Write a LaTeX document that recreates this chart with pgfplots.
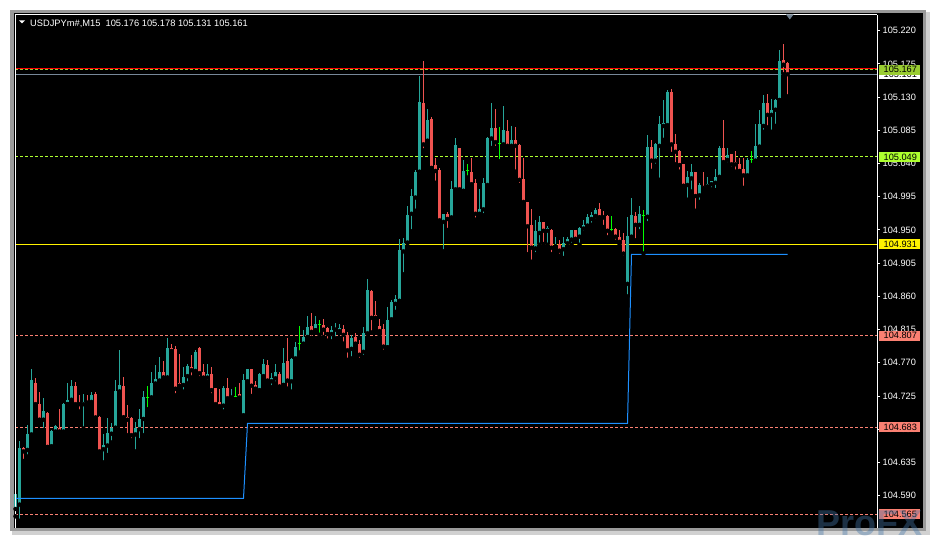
\documentclass[border=0pt]{standalone}
\usepackage{pgfplots}
\pgfplotsset{compat=1.18}
\usepackage{pgfplotstable}
\usepackage{fontspec}
\setmainfont{Liberation Sans}
\definecolor{bull}{HTML}{26A69A}
\definecolor{bear}{HTML}{EF5350}
\definecolor{dojic}{HTML}{00FF00}
\definecolor{blueline}{HTML}{1E90FF}
\definecolor{bidline}{HTML}{778899}
\definecolor{ygreen}{HTML}{9ACD32}
\definecolor{gyellow}{HTML}{ADFF2F}
\definecolor{salmonc}{HTML}{FA8072}
\definecolor{shiftc}{HTML}{708090}

\pgfplotstableread{
i o h l c
0 104.572 104.594 104.562 104.592
1 104.578 104.664 104.556 104.655
3 104.652 104.686 104.643 104.673
4 104.673 104.762 104.670 104.747
7 104.693 104.722 104.679 104.705
9 104.657 104.679 104.655 104.677
10 104.677 104.686 104.674 104.684
12 104.677 104.716 104.675 104.714
13 104.714 104.743 104.714 104.720
14 104.720 104.747 104.715 104.739
17 104.714 104.728 104.681 104.717
19 104.717 104.731 104.716 104.726
22 104.653 104.674 104.635 104.659
23 104.658 104.695 104.645 104.675
24 104.674 104.688 104.662 104.682
25 104.682 104.747 104.682 104.732
26 104.731 104.787 104.731 104.740
30 104.673 104.690 104.650 104.682
31 104.680 104.708 104.665 104.694
32 104.694 104.732 104.672 104.724
34 104.723 104.758 104.723 104.743
35 104.742 104.767 104.740 104.748
36 104.746 104.778 104.744 104.757
38 104.750 104.803 104.750 104.790
42 104.740 104.765 104.731 104.751
43 104.752 104.769 104.742 104.766
45 104.759 104.787 104.758 104.784
48 104.750 104.768 104.744 104.755
52 104.712 104.739 104.704 104.736
54 104.723 104.735 104.719 104.725
57 104.699 104.755 104.694 104.747
58 104.745 104.762 104.744 104.762
61 104.733 104.756 104.732 104.755
62 104.752 104.775 104.750 104.768
64 104.745 104.756 104.737 104.749
65 104.749 104.768 104.742 104.757
67 104.740 104.790 104.740 104.770
69 104.745 104.777 104.731 104.775
70 104.776 104.798 104.772 104.791
72 104.796 104.815 104.791 104.805
73 104.805 104.833 104.805 104.819
75 104.814 104.833 104.814 104.823
79 104.809 104.820 104.799 104.815
80 104.815 104.824 104.803 104.817
81 104.813 104.822 104.810 104.817
84 104.789 104.808 104.776 104.804
87 104.785 104.819 104.778 104.810
88 104.810 104.884 104.809 104.869
93 104.791 104.846 104.791 104.828
94 104.829 104.855 104.826 104.852
95 104.850 104.862 104.839 104.856
96 104.854 104.938 104.853 104.923
97 104.921 104.939 104.890 104.933
98 104.933 104.982 104.932 104.970
99 104.972 105.006 104.948 104.996
100 104.994 105.031 104.976 105.029
101 105.029 105.158 105.023 105.124
103 105.071 105.114 105.069 105.099
107 104.961 104.972 104.921 104.972
109 104.967 105.016 104.964 105.005
110 105.005 105.075 105.002 105.065
112 105.003 105.045 105.003 105.030
116 104.972 105.006 104.971 104.978
117 104.978 105.021 104.970 105.013
118 105.011 105.076 105.006 105.074
119 105.074 105.122 105.061 105.088
122 105.066 105.118 105.063 105.085
124 105.064 105.091 105.062 105.072
130 104.925 104.964 104.917 104.949
131 104.946 104.969 104.930 104.961
133 104.949 104.955 104.930 104.953
135 104.928 104.941 104.925 104.931
137 104.924 104.940 104.912 104.933
138 104.932 104.941 104.927 104.938
139 104.937 104.950 104.930 104.950
141 104.941 104.954 104.930 104.953
142 104.952 104.963 104.946 104.957
143 104.956 104.972 104.954 104.968
144 104.965 104.975 104.957 104.970
145 104.969 104.980 104.963 104.977
153 104.877 104.968 104.860 104.942
154 104.941 104.993 104.940 104.970
156 104.957 104.982 104.948 104.972
158 104.968 105.079 104.959 105.062
160 105.044 105.068 105.037 105.066
161 105.064 105.104 105.018 105.094
162 105.091 105.126 105.072 105.095
163 105.092 105.140 105.091 105.137
168 105.011 105.030 104.991 105.022
169 105.020 105.039 105.002 105.029
171 104.997 105.013 104.988 105.011
173 105.009 105.022 105.006 105.012
174 105.012 105.017 105.005 105.017
175 105.014 105.032 105.004 105.022
176 105.022 105.064 105.018 105.061
178 105.045 105.061 105.039 105.051
183 105.024 105.048 105.020 105.045
185 105.044 105.094 105.042 105.064
186 105.063 105.112 105.062 105.094
187 105.091 105.133 105.083 105.122
189 105.106 105.127 105.083 105.113
190 105.113 105.127 105.091 105.126
191 105.126 105.194 105.126 105.179
}\bullT

\pgfplotstableread{
i o h l c
2 104.654 104.656 104.637 104.650
5 104.743 104.749 104.713 104.714
6 104.714 104.730 104.689 104.693
8 104.702 104.703 104.656 104.656
11 104.682 104.707 104.675 104.677
15 104.739 104.744 104.711 104.714
16 104.716 104.726 104.704 104.714
18 104.718 104.726 104.711 104.716
20 104.728 104.730 104.695 104.696
21 104.697 104.698 104.647 104.650
27 104.739 104.751 104.696 104.696
28 104.696 104.713 104.672 104.693
29 104.695 104.696 104.665 104.672
37 104.757 104.772 104.750 104.750
39 104.790 104.795 104.783 104.786
40 104.789 104.793 104.726 104.735
41 104.743 104.782 104.738 104.739
44 104.765 104.781 104.750 104.760
46 104.790 104.791 104.749 104.756
47 104.758 104.769 104.747 104.750
49 104.755 104.764 104.726 104.733
50 104.736 104.736 104.712 104.714
51 104.717 104.734 104.711 104.711
53 104.736 104.749 104.720 104.722
56 104.728 104.742 104.722 104.723
59 104.762 104.762 104.725 104.739
60 104.740 104.745 104.731 104.735
63 104.767 104.774 104.742 104.746
66 104.755 104.758 104.735 104.738
68 104.773 104.803 104.735 104.746
74 104.820 104.838 104.810 104.812
77 104.821 104.829 104.805 104.815
78 104.817 104.818 104.800 104.809
82 104.816 104.821 104.796 104.808
83 104.808 104.812 104.774 104.787
85 104.805 104.810 104.794 104.796
86 104.796 104.801 104.774 104.781
89 104.867 104.869 104.811 104.831
90 104.835 104.854 104.826 104.831
91 104.820 104.830 104.808 104.813
92 104.816 104.823 104.785 104.792
102 105.122 105.179 105.058 105.066
104 105.100 105.103 105.034 105.034
105 105.038 105.048 105.014 105.030
106 105.031 105.034 104.958 104.963
108 104.971 104.974 104.950 104.965
111 105.061 105.061 105.002 105.005
114 105.028 105.048 105.010 105.012
115 105.013 105.019 104.964 104.972
120 105.088 105.114 105.061 105.069
123 105.084 105.099 105.060 105.064
125 105.072 105.090 105.029 105.064
126 105.065 105.067 105.011 105.018
127 105.019 105.048 104.984 104.988
128 104.988 104.988 104.917 104.955
129 104.957 104.979 104.907 104.926
132 104.961 104.961 104.931 104.949
134 104.950 104.952 104.917 104.926
136 104.931 104.936 104.915 104.922
140 104.950 104.950 104.934 104.938
146 104.978 104.986 104.967 104.967
147 104.969 104.976 104.954 104.967
148 104.969 104.970 104.940 104.949
150 104.951 104.953 104.934 104.941
151 104.941 104.950 104.931 104.934
152 104.936 104.946 104.912 104.918
155 104.969 104.974 104.936 104.957
159 105.063 105.072 105.030 105.044
164 105.137 105.141 105.053 105.066
165 105.066 105.080 105.039 105.056
166 105.057 105.058 105.029 105.038
167 105.039 105.040 105.005 105.010
170 105.029 105.029 104.976 104.996
172 105.010 105.029 105.003 105.007
177 105.061 105.099 105.039 105.042
179 105.053 105.053 105.033 105.039
180 105.042 105.057 105.029 105.039
181 105.039 105.048 105.029 105.030
182 105.033 105.048 105.007 105.024
188 105.122 105.134 105.089 105.106
192 105.180 105.202 105.161 105.174
193 105.176 105.178 105.131 105.161
}\bearT

\pgfplotstableread{
i o h l c
33 104.723 104.738 104.707 104.723
55 104.724 104.737 104.722 104.724
71 104.796 104.820 104.784 104.796
76 104.822 104.828 104.808 104.822
113 105.030 105.040 105.021 105.030
121 105.067 105.090 105.043 105.067
149 104.950 104.969 104.946 104.950
157 104.969 104.977 104.918 104.969
184 105.045 105.057 105.038 105.045
}\dojiT

\begin{document}
\begin{tikzpicture}
\path[use as bounding box] (0,0) rectangle (936bp,540bp);
\fill[white] (0,0) rectangle (936bp,540bp);
% window chrome
\fill[black!18] (12bp,5bp) rectangle (930bp,528bp);
\fill[black!40] (10bp,8.5bp) rectangle (926bp,530bp);
\fill[black] (13.5bp,11.5bp) rectangle (923bp,526.5bp);

\begin{axis}[
  at={(15bp,12bp)}, anchor=south west,
  scale only axis, width=862bp, height=513bp,
  xmin=-0.125, xmax=215.375, ymin=104.5462, ymax=105.2413,
  axis x line=none, axis y line*=right,
  axis line style={white, line width=1bp},
  ytick={104.590,104.635,104.680,104.725,104.770,104.815,104.860,104.905,104.950,104.995,105.040,105.085,105.130,105.175,105.220},
  tick align=outside, major tick length=3bp,
  tick style={white, line width=1bp},
  scaled y ticks=false,
  yticklabel style={text=white, font=\fontsize{9.2bp}{10bp}\selectfont, anchor=west, inner sep=0pt, xshift=2.5bp,
    /pgf/number format/.cd, fixed, fixed zerofill, precision=3, 1000 sep={}, assume math mode=true},
  clip=false,
]
% horizontal lines
\addplot[red, line width=1bp] coordinates {(-0.125,105.169) (215.375,105.169)};
\addplot[ygreen, line width=1bp, dash pattern=on 3bp off 2bp] coordinates {(-0.125,105.167) (215.375,105.167)};
\addplot[bidline, line width=1bp] coordinates {(-0.125,105.161) (215.375,105.161)};
\addplot[gyellow, line width=1bp, dash pattern=on 3bp off 2bp] coordinates {(-0.125,105.049) (215.375,105.049)};
\addplot[yellow, line width=1bp] coordinates {(-0.125,104.931) (215.375,104.931)};
\addplot[salmonc, line width=1bp, dash pattern=on 3bp off 2bp] coordinates {(-0.125,104.807) (215.375,104.807)};
\addplot[salmonc, line width=1bp, dash pattern=on 3bp off 2bp] coordinates {(-0.125,104.683) (215.375,104.683)};
\addplot[salmonc, line width=1bp, dash pattern=on 3bp off 2bp] coordinates {(-0.125,104.565) (215.375,104.565)};

% wicks
\addplot[only marks, mark=none, error bars/.cd, y dir=plus, y explicit, error mark=none,
  error bar style={draw=bull, line width=1bp}]
  table[x=i, y=l, y error expr=\thisrow{h}-\thisrow{l}] {\bullT};
\addplot[only marks, mark=none, error bars/.cd, y dir=plus, y explicit, error mark=none,
  error bar style={draw=bear, line width=1bp}]
  table[x=i, y=l, y error expr=\thisrow{h}-\thisrow{l}] {\bearT};
\addplot[only marks, mark=none, error bars/.cd, y dir=plus, y explicit, error mark=none,
  error bar style={draw=dojic, line width=1bp}]
  table[x=i, y=l, y error expr=\thisrow{h}-\thisrow{l}] {\dojiT};
% bodies
\addplot[only marks, mark=none, error bars/.cd, y dir=plus, y explicit, error mark=none,
  error bar style={draw=bull, line width=3bp}]
  table[x=i, y=o, y error expr=\thisrow{c}-\thisrow{o}] {\bullT};
\addplot[only marks, mark=none, error bars/.cd, y dir=plus, y explicit, error mark=none,
  error bar style={draw=bear, line width=3bp}]
  table[x=i, y=c, y error expr=\thisrow{o}-\thisrow{c}] {\bearT};
\addplot[dojic, only marks, mark=-, mark size=1.5bp, mark options={line width=1bp}]
  table[x=i, y=o] {\dojiT};

% indicator step line
\addplot[blueline, line width=1bp] coordinates {(0,104.5864) (57,104.5864) (58,104.688) (153,104.688) (154,104.917) (193,104.917)};

% frame left and top
\draw[white, line width=1bp] (rel axis cs:0,0) -- (rel axis cs:0,1) -- (rel axis cs:1,1);

\coordinate (p167) at (axis cs:215.375,105.167);
\coordinate (p161) at (axis cs:215.375,105.161);
\coordinate (p049) at (axis cs:215.375,105.049);
\coordinate (p931) at (axis cs:215.375,104.931);
\coordinate (p807) at (axis cs:215.375,104.807);
\coordinate (p683) at (axis cs:215.375,104.683);
\coordinate (p565) at (axis cs:215.375,104.565);
\end{axis}

\tikzset{pbox/.style={anchor=west, minimum height=10bp, inner xsep=4.5bp, inner ysep=0pt, text width=32bp, font=\fontsize{9.2bp}{10bp}\selectfont, text=black}}
\node[pbox, fill=white] at ([xshift=2bp]p161) {105.161};
\node[pbox, fill=ygreen] at ([xshift=2bp]p167) {105.167};
\node[pbox, fill=gyellow] at ([xshift=2bp]p049) {105.049};
\node[pbox, fill=yellow] at ([xshift=2bp]p931) {104.931};
\node[pbox, fill=salmonc] at ([xshift=2bp]p807) {104.807};
\node[pbox, fill=salmonc] at ([xshift=2bp]p683) {104.683};
\node[pbox, fill=salmonc] at ([xshift=2bp]p565) {104.565};

% chart shift marker
\fill[shiftc] (786bp,525.5bp) -- (793.5bp,525.5bp) -- (789.75bp,520.5bp) -- cycle;
% title
\fill[white] (19bp,519.5bp) -- (25bp,519.5bp) -- (22bp,516.5bp) -- cycle;
\node[anchor=base west, inner sep=0pt, text=white, font=\fontsize{9.3bp}{11bp}\selectfont] at (30bp,513.7bp) {USDJPYm\#,M15\ \ 105.176 105.178 105.131 105.161};
% watermark
\node[anchor=base west, inner sep=0pt, text={rgb,255:red,70;green,120;blue,170}, text opacity=0.4, font=\fontsize{36bp}{40bp}\selectfont\bfseries] at (816bp,5bp) {ProFX};
\end{tikzpicture}
\end{document}
